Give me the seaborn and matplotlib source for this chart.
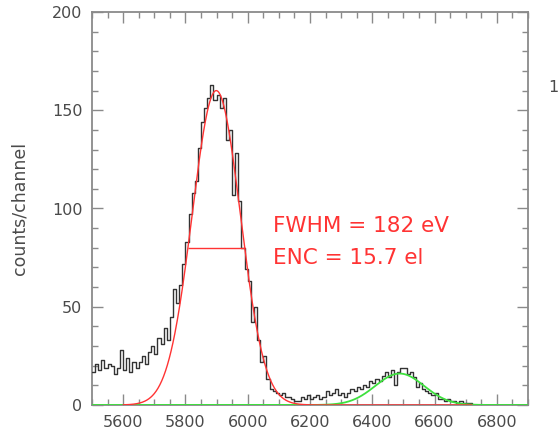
import numpy as np
import pandas as pd
import matplotlib
matplotlib.use("Agg")
import matplotlib.pyplot as plt
from matplotlib.ticker import MultipleLocator
import seaborn as sns

# ------------------------------------------------------------------
# Data (10 eV channels starting at 5500 eV)
# ------------------------------------------------------------------
BIN_START = 5500
BIN_WIDTH = 10
counts = [
    17, 21, 18, 23, 19, 21, 20, 16, 19, 28,   # 5500
    18, 24, 17, 22, 19, 22, 25, 21, 27, 30,   # 5600
    26, 34, 31, 39, 33, 45, 59, 52, 61, 72,   # 5700
    83, 97, 108, 114, 131, 144, 151, 156, 163, 155,  # 5800
    158, 151, 156, 135, 140, 107, 128, 104, 80, 69,  # 5900
    63, 42, 50, 33, 22, 25, 13, 8, 7, 6,      # 6000
    5, 6, 4, 4, 3, 2, 2, 4, 3, 5,             # 6100
    3, 4, 5, 3, 4, 7, 5, 6, 8, 5,             # 6200
    6, 4, 6, 8, 7, 9, 8, 10, 9, 12,           # 6300
    11, 13, 12, 15, 17, 14, 18, 10, 17, 19,   # 6400
    19, 16, 17, 14, 9, 11, 8, 7, 6, 5,        # 6500
    6, 3, 3, 2, 3, 2, 2, 1, 2, 1,             # 6600
    1, 1, 0, 0, 0, 0, 0, 0, 0, 0,             # 6700
    0, 0, 0, 0, 0, 0, 0, 0, 0, 0,             # 6800
]

# Gaussian fits (main line and the small line at ~6.5 keV)
main_amp, main_center, main_fwhm = 160, 5899, 182
kb_amp, kb_center, kb_fwhm = 16, 6488, 185
main_range = (5600, 6720)

fwhm_text = "FWHM = 182 eV"
enc_text = "ENC = 15.7 el"

xticks = [5600, 5800, 6000, 6200, 6400, 6600, 6800]
yticks = [0, 50, 100, 150, 200]

RED = "#ff3333"
GREEN = "#3ee03e"
FRAME = "#8a8a8a"
TEXT = "#4a4a4a"


def gauss(x, amp, center, fwhm):
    sigma = fwhm / (2 * np.sqrt(2 * np.log(2)))
    return amp * np.exp(-0.5 * ((x - center) / sigma) ** 2)


sns.set_theme(style="ticks")
plt.rcParams["font.family"] = ["DejaVu Sans"]

fig = plt.figure(figsize=(5.59, 4.36), dpi=100)
ax = fig.add_axes([92 / 559, 1 - 405 / 436, 436 / 559, 393 / 436])

# histogram
n_bins = len(counts)
centers = BIN_START + BIN_WIDTH * (np.arange(n_bins) + 0.5)
df = pd.DataFrame({"energy": centers, "counts": counts})
sns.histplot(data=df, x="energy", weights="counts", binwidth=BIN_WIDTH,
             binrange=(BIN_START, BIN_START + BIN_WIDTH * n_bins),
             element="step", fill=False, color="#333333", linewidth=1.0,
             ax=ax, zorder=3)

# fits
xs = np.linspace(5500, 6900, 701)
sns.lineplot(x=xs, y=gauss(xs, kb_amp, kb_center, kb_fwhm), color=GREEN,
             linewidth=1.3, ax=ax, zorder=4)
xm = xs[(xs >= main_range[0]) & (xs <= main_range[1])]
sns.lineplot(x=xm, y=gauss(xm, main_amp, main_center, main_fwhm), color=RED,
             linewidth=1.0, ax=ax, zorder=5)
ax.hlines(main_amp / 2, main_center - main_fwhm / 2, main_center + main_fwhm / 2,
          color=RED, linewidth=1.0, zorder=5)

ax.text(6081, 88, fwhm_text, color=RED, fontsize=15.5)
ax.text(6081, 72, enc_text, color=RED, fontsize=15.5)

ax.set_xlim(5500, 6900)
ax.set_ylim(0, 200)
ax.set_xticks(xticks)
ax.set_yticks(yticks)
ax.xaxis.set_minor_locator(MultipleLocator(50))
ax.yaxis.set_minor_locator(MultipleLocator(10))
ax.tick_params(which="both", direction="in", top=True, right=True,
               color=FRAME, width=1.0, labelcolor=TEXT, labelsize=11.5)
ax.tick_params(which="major", length=8, pad=7)
ax.tick_params(which="minor", length=4)
for sp in ax.spines.values():
    sp.set_color(FRAME)
    sp.set_linewidth(1.3)

ax.set_xlabel("")
ax.set_ylabel("counts/channel", color=TEXT, fontsize=12.5, labelpad=17)

# neighbouring panel's label cut off at the right edge
fig.text(548 / 559, 1 - 87 / 436, "100", color=TEXT, fontsize=11.5,
         va="center", ha="left")

fig.savefig("out.png", dpi=100)
